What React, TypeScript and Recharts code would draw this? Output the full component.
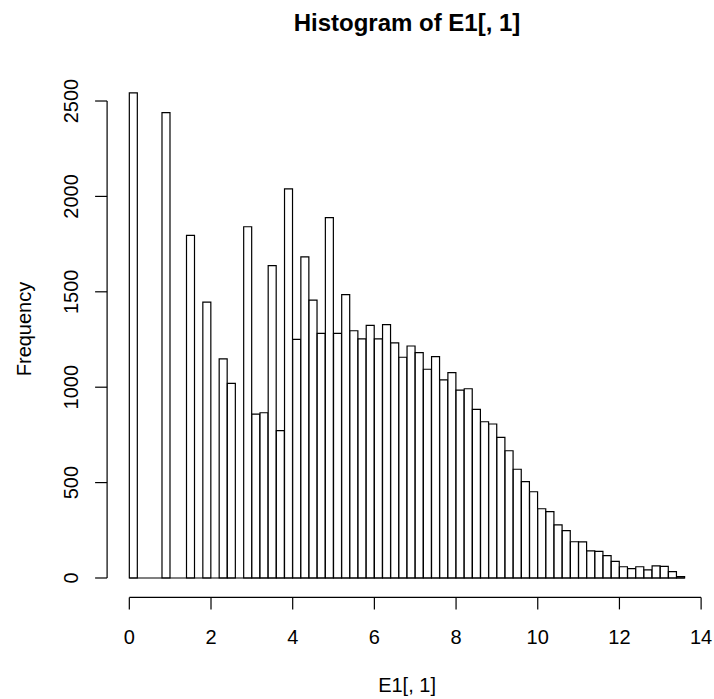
import { BarChart, Bar, XAxis, YAxis, ReferenceLine } from 'recharts'

// histogram counts, bins of width 0.2 starting at 0
const counts = [
  2543, 0, 0, 0, 2439, 0, 0, 1796, 0, 1446,
  0, 1148, 1020, 0, 1841, 859, 866, 1637, 772, 2040,
  1251, 1683, 1456, 1282, 1889, 1282, 1485, 1296, 1253, 1324,
  1253, 1328, 1232, 1157, 1216, 1181, 1094, 1160, 1038, 1076,
  985, 992, 884, 819, 807, 737, 667, 570, 505, 452,
  363, 348, 278, 248, 190, 189, 142, 140, 117, 87,
  59, 49, 59, 43, 64, 61, 33, 7,
]
const binStart = 0
const binWidth = 0.2
const xTicks = [0, 2, 4, 6, 8, 10, 12, 14]
const yTicks = [0, 500, 1000, 1500, 2000, 2500]

const title = 'Histogram of E1[, 1]'
const xLabel = 'E1[, 1]'
const yLabel = 'Frequency'

const data = counts.map((count, i) => ({ mid: binStart + binWidth * (i + 0.5), count }))

// R-style 4% padding around the data range
const xLo = binStart
const xHi = binStart + binWidth * counts.length
const xPad = (xHi - xLo) * 0.04
const yMax = Math.max(...counts)
const yPad = yMax * 0.04

const FONT = '"Liberation Sans", Arial, sans-serif'
const FS = 20

function YTick(props: any) {
  const { x, y, payload } = props
  return (
    <text x={x} y={y} transform={`rotate(-90, ${x}, ${y})`} textAnchor="middle" fontSize={FS} fill="#000">
      {payload.value}
    </text>
  )
}

function XTitle(props: any) {
  const vb = props.viewBox
  return (
    <text x={vb.x + vb.width / 2} y={vb.y + 94.5} textAnchor="middle" fontSize={FS} fill="#000">
      {xLabel}
    </text>
  )
}

function YTitle(props: any) {
  const vb = props.viewBox
  const x = vb.x + 31
  const y = 329
  return (
    <text x={x} y={y} transform={`rotate(-90, ${x}, ${y})`} textAnchor="middle" fontSize={FS} fill="#000">
      {yLabel}
    </text>
  )
}

export default function App() {
  return (
    <div style={{ position: 'absolute', left: 0, top: 0, width: 714, height: 699, fontFamily: FONT, background: '#fff' }}>
      <div
        style={{
          position: 'absolute',
          left: 100,
          width: 614,
          top: 11,
          textAlign: 'center',
          fontSize: 24,
          lineHeight: '24px',
          fontWeight: 'bold',
          color: '#000',
        }}
      >
        {title}
      </div>
      <BarChart
        width={714}
        height={699}
        data={data}
        margin={{ top: 73.4, right: 7, bottom: 0, left: 0 }}
        barCategoryGap={0}
        barGap={0}
      >
        <XAxis
          type="number"
          dataKey="mid"
          domain={[xLo - xPad, xHi + xPad]}
          allowDataOverflow
          ticks={xTicks}
          interval={0}
          height={101.6}
          axisLine={false}
          tickSize={12}
          tickMargin={20}
          tickLine={{ stroke: '#000', strokeWidth: 1.2 }}
          tick={{ fill: '#000', fontSize: FS }}
          label={XTitle}
        />
        <YAxis
          type="number"
          domain={[-yPad, yMax + yPad]}
          allowDataOverflow
          ticks={yTicks}
          interval={0}
          width={107.1}
          axisLine={false}
          tickSize={12}
          tickMargin={17}
          tickLine={{ stroke: '#000', strokeWidth: 1.2 }}
          tick={YTick}
          label={YTitle}
        />
        <ReferenceLine
          segment={[{ x: xTicks[0], y: -yPad }, { x: xTicks[xTicks.length - 1], y: -yPad }]}
          stroke="#000"
          strokeWidth={1.2}
        />
        <ReferenceLine
          segment={[{ x: xLo - xPad, y: yTicks[0] }, { x: xLo - xPad, y: yTicks[yTicks.length - 1] }]}
          stroke="#000"
          strokeWidth={1.2}
        />
        <ReferenceLine
          segment={[{ x: xLo, y: 0 }, { x: xHi, y: 0 }]}
          stroke="#000"
          strokeWidth={1.2}
        />
        <Bar dataKey="count" fill="#fff" stroke="#000" strokeWidth={1.2} isAnimationActive={false} />
      </BarChart>
    </div>
  )
}
